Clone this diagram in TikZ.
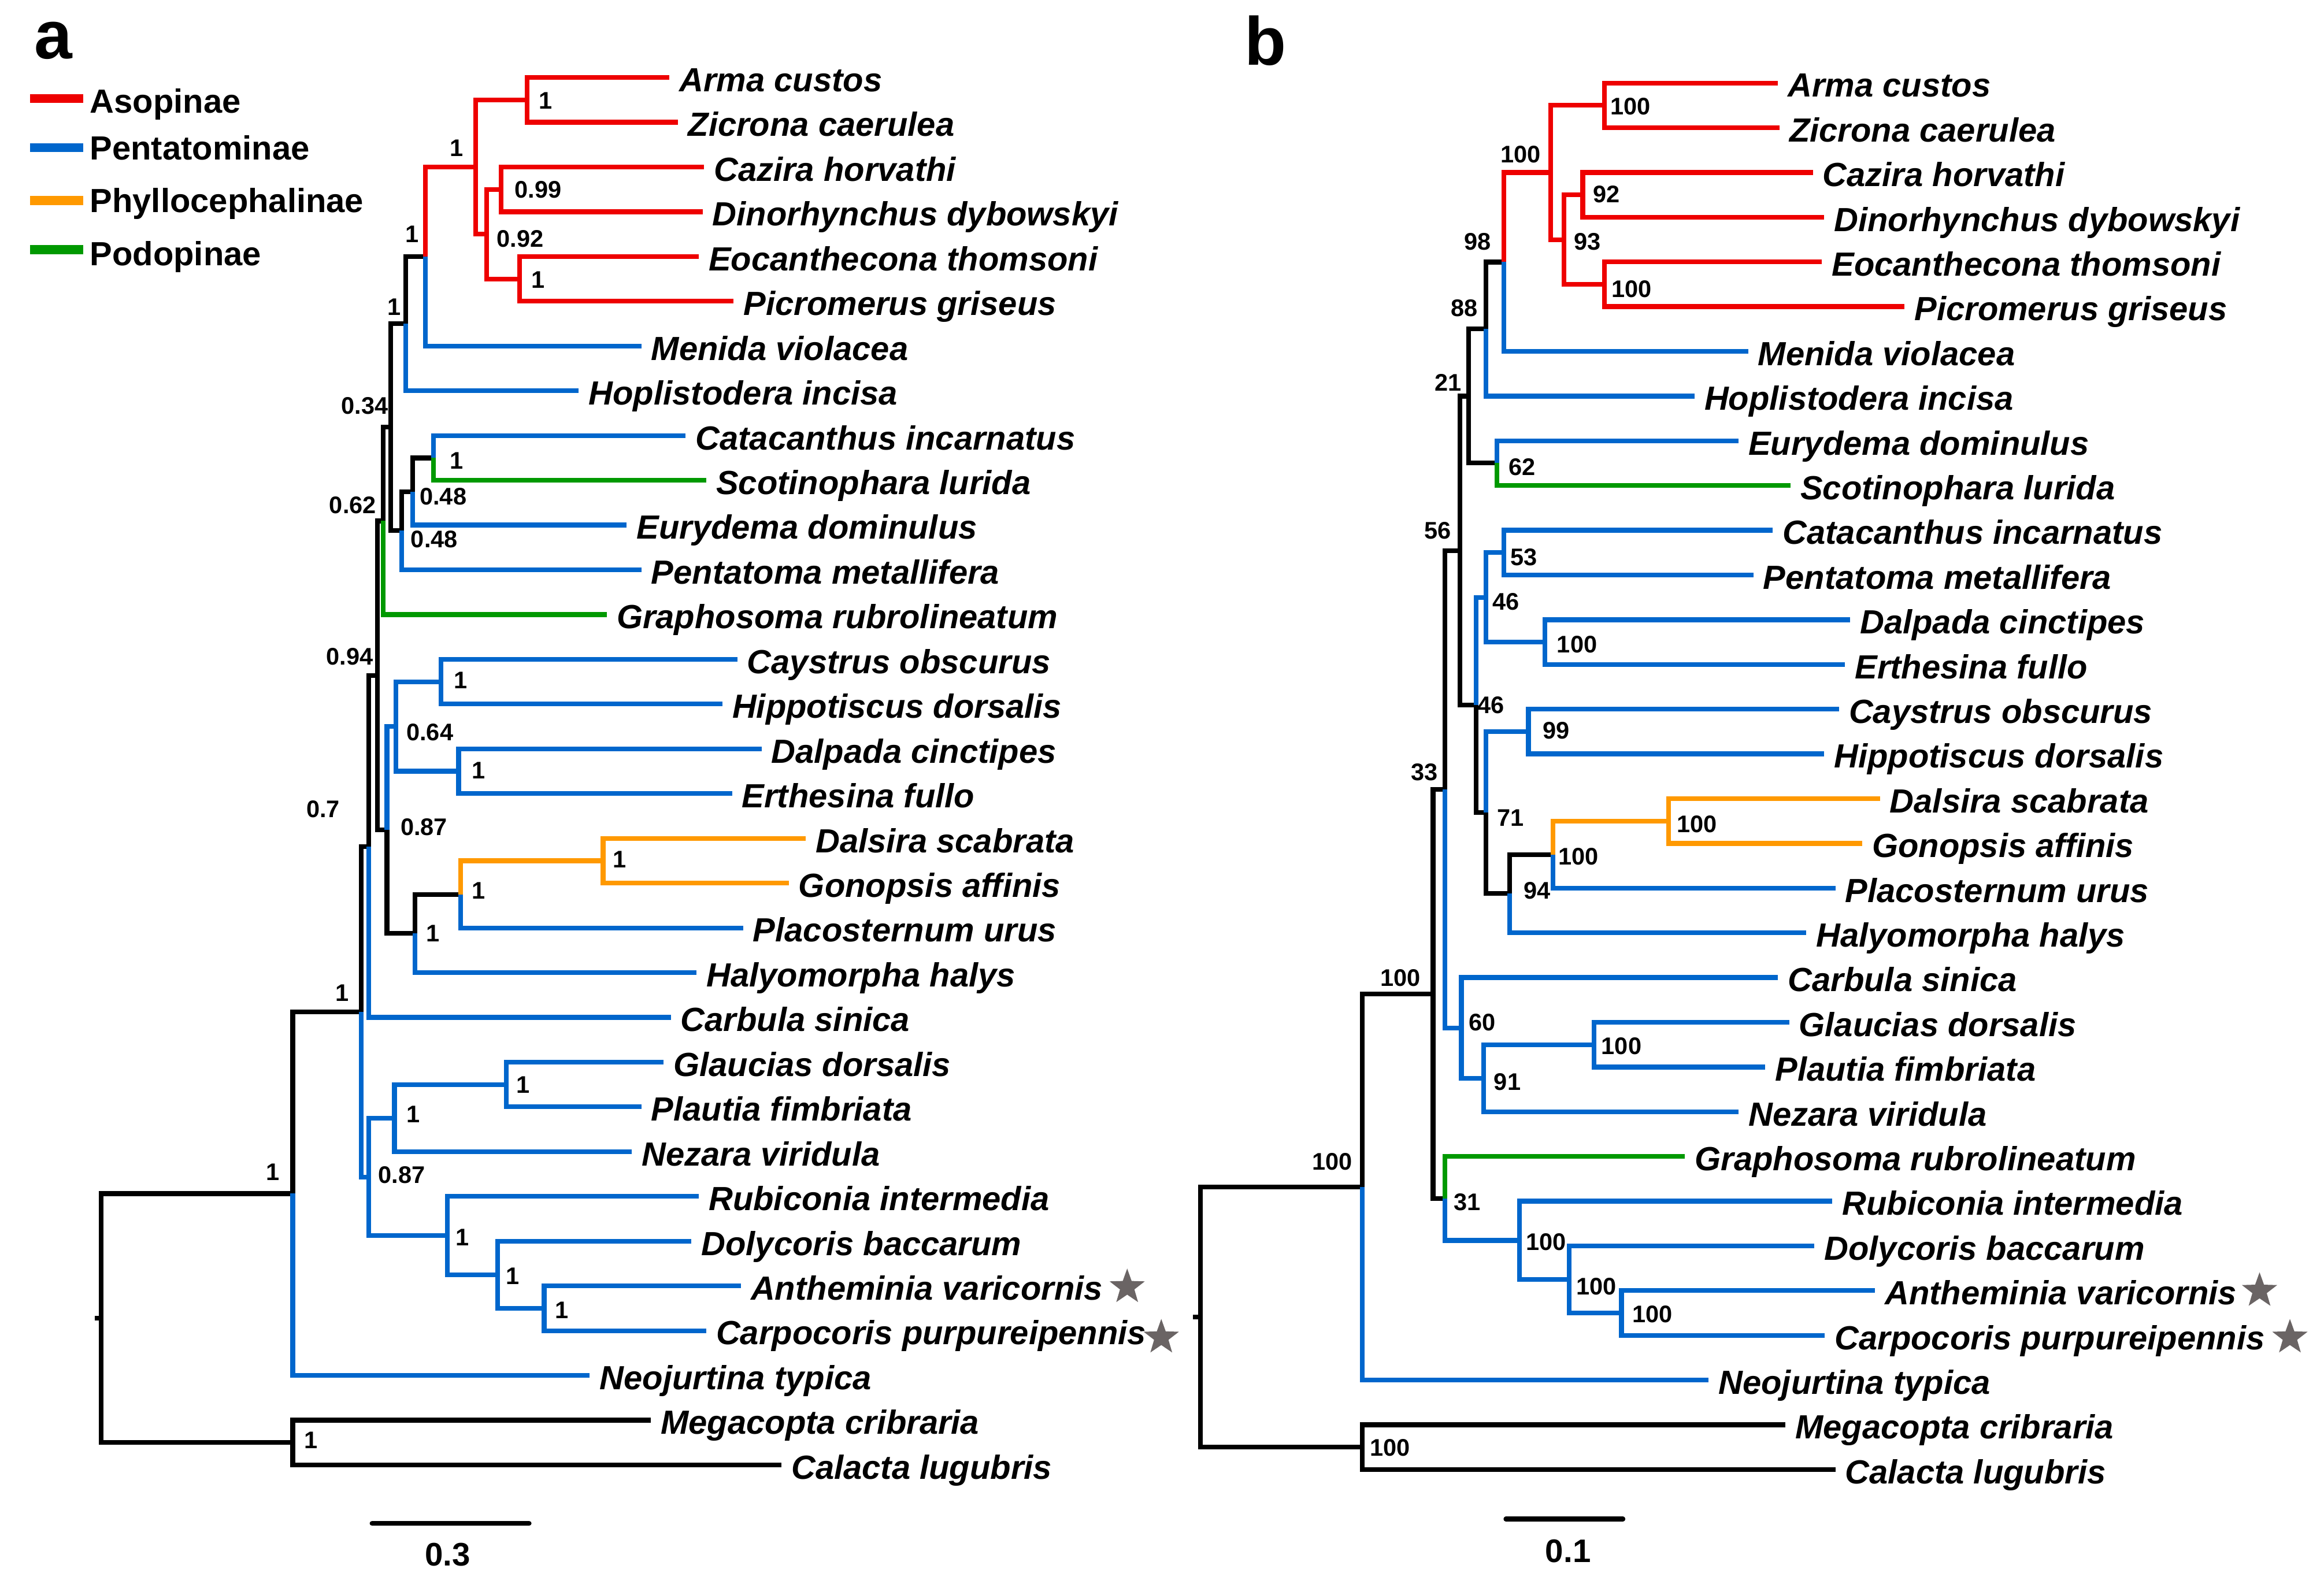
\documentclass[tikz,border=0pt]{standalone}
\usepackage{fontspec}
\setmainfont{Liberation Sans}
\usetikzlibrary{shapes.geometric}

\definecolor{asored}{RGB}{238,0,0}
\definecolor{pentblue}{RGB}{0,102,204}
\definecolor{phylorange}{RGB}{255,153,0}
\definecolor{podogreen}{RGB}{0,153,0}
\definecolor{stargray}{RGB}{106,100,100}

\begin{document}
\begin{tikzpicture}[x=1pt, y=-1pt,
    br/.style={line width=3.2pt},
    taxon/.style={anchor=west, inner xsep=6.5pt, inner ysep=0pt, text height=22.6pt, text depth=3.6pt,
      font=\fontsize{22.6}{26}\selectfont\bfseries\itshape},
    supp/.style={inner sep=0pt, font=\fontsize{16.2}{18}\selectfont\bfseries},
    legtext/.style={anchor=base west, inner sep=0pt, font=\fontsize{22.6}{26}\selectfont\bfseries},
    panel/.style={anchor=base, inner sep=0pt, font=\fontsize{46}{50}\selectfont\bfseries},
    refstar/.style={star, star points=5, star point ratio=2.45, minimum size=25pt, inner sep=0pt, fill=stargray},
    scalebar/.style={line width=3.2pt, line cap=round},
    scaletext/.style={inner sep=0pt, font=\fontsize{22}{24}\selectfont\bfseries}]
    \useasboundingbox (0,0) rectangle (1568,1068.5);

    % Beschriftung der Teilbilder
    \node[panel] (pa) at (36,39.7) {a};
    \node[panel] (pb) at (853.7,43.9) {b};

    % Legende
    \draw[line width=6pt, asored] (20.4,66.4) -- (56.2,66.4);
    \draw[line width=6pt, pentblue] (20.4,99.7) -- (56.2,99.7);
    \draw[line width=6pt, phylorange] (20.4,135.3) -- (56.2,135.3);
    \draw[line width=6pt, podogreen] (20.4,168.5) -- (56.2,168.5);
    \node[legtext] (legAso) at (60.5,76.1) {Asopinae};
    \node[legtext] (legPen) at (60.5,108) {Pentatominae};
    \node[legtext] (legPhy) at (60.5,143.2) {Phyllocephalinae};
    \node[legtext] (legPod) at (60.5,179) {Podopinae};

    % Baum a: innere Knoten
    \coordinate (aN1) at (355.6,67.4);
    \coordinate (aN2) at (338.2,127.8);
    \coordinate (aN3) at (350.7,188.2);
    \coordinate (aN4) at (328.3,158.0);
    \coordinate (aN5) at (320.8,112.7);
    \coordinate (aN6) at (287.0,173.1);
    \coordinate (aN7) at (273.6,218.4);
    \coordinate (aN8) at (292.5,309.0);
    \coordinate (aN9) at (278.5,331.7);
    \coordinate (aN10) at (271.1,358.1);
    \coordinate (aN11) at (263.6,288.3);
    \coordinate (aN12) at (258.6,351.5);
    \coordinate (aN13) at (297.4,460.0);
    \coordinate (aN14) at (309.4,520.4);
    \coordinate (aN15) at (267.1,490.2);
    \coordinate (aN16) at (406.9,580.8);
    \coordinate (aN17) at (310.9,603.5);
    \coordinate (aN18) at (280.0,629.9);
    \coordinate (aN19) at (261.1,560.1);
    \coordinate (aN20) at (254.7,455.8);
    \coordinate (aN21) at (248.7,571.2);
    \coordinate (aN22) at (341.7,731.8);
    \coordinate (aN23) at (266.1,754.5);
    \coordinate (aN24) at (367.1,882.8);
    \coordinate (aN25) at (335.7,860.2);
    \coordinate (aN26) at (301.9,833.8);
    \coordinate (aN27) at (248.7,794.2);
    \coordinate (aN28) at (243.7,682.7);
    \coordinate (aN29) at (197.5,805.4);
    \coordinate (aN30) at (197.5,973.4);
    \coordinate (aRoot) at (68.1,889.4);
    \coordinate (aTick) at (64.0,889.4);

    % Baum a: Taxa
    \node[taxon] (aArma) at (451.6,52.3) {Arma custos};
    \node[taxon] (aZicr) at (457.6,82.5) {Zicrona caerulea};
    \node[taxon] (aCazi) at (475.0,112.7) {Cazira horvathi};
    \node[taxon] (aDino) at (474.0,142.9) {Dinorhynchus dybowskyi};
    \node[taxon] (aEoca) at (471.5,173.1) {Eocanthecona thomsoni};
    \node[taxon] (aPicr) at (495.0,203.3) {Picromerus griseus};
    \node[taxon] (aMeni) at (432.7,233.5) {Menida violacea};
    \node[taxon] (aHopl) at (390.5,263.7) {Hoplistodera incisa};
    \node[taxon] (aCata) at (462.6,293.9) {Catacanthus incarnatus};
    \node[taxon] (aScot) at (476.5,324.1) {Scotinophara lurida};
    \node[taxon] (aEury) at (422.8,354.3) {Eurydema dominulus};
    \node[taxon] (aPent) at (432.7,384.5) {Pentatoma metallifera};
    \node[taxon] (aGrap) at (409.4,414.7) {Graphosoma rubrolineatum};
    \node[taxon] (aCays) at (497.4,444.9) {Caystrus obscurus};
    \node[taxon] (aHipp) at (487.4,475.1) {Hippotiscus dorsalis};
    \node[taxon] (aDalp) at (513.8,505.3) {Dalpada cinctipes};
    \node[taxon] (aErth) at (493.9,535.5) {Erthesina fullo};
    \node[taxon] (aDals) at (543.6,565.7) {Dalsira scabrata};
    \node[taxon] (aGono) at (532.2,595.9) {Gonopsis affinis};
    \node[taxon] (aPlac) at (501.4,626.1) {Placosternum urus};
    \node[taxon] (aHaly) at (470.0,656.3) {Halyomorpha halys};
    \node[taxon] (aCarb) at (452.6,686.5) {Carbula sinica};
    \node[taxon] (aGlau) at (447.7,716.7) {Glaucias dorsalis};
    \node[taxon] (aPlau) at (432.7,746.9) {Plautia fimbriata};
    \node[taxon] (aNeza) at (426.3,777.1) {Nezara viridula};
    \node[taxon] (aRubi) at (471.5,807.3) {Rubiconia intermedia};
    \node[taxon] (aDoly) at (466.5,837.5) {Dolycoris baccarum};
    \node[taxon] (aAnth) at (499.9,867.7) {Antheminia varicornis};
    \node[taxon] (aCarp) at (476.5,897.9) {Carpocoris purpureipennis};
    \node[taxon] (aNeoj) at (397.9,928.1) {Neojurtina typica};
    \node[taxon] (aMega) at (439.2,958.3) {Megacopta cribraria};
    \node[taxon] (aCala) at (527.2,988.5) {Calacta lugubris};
    \node[refstar] (aStarA) at (760.5,868.5) {};
    \node[refstar] (aStarC) at (783.5,902.5) {};

    % Baum a: Aeste
    \draw[br] (aRoot) |- (aN29) (aRoot) |- (aN30) (aN30) |- (aMega.west) (aN30) |- (aCala.west)
      (aN29) |- (aN28) (aN28) |- (aN21) (aN21) |- (aN20) (aN20) |- (aN12) (aN20) |- (aN19)
      (aN19) |- (aN18) (aN18) |- (aN17) (aN12) |- (aN11) (aN11) |- (aN7) (aN11) |- (aN10)
      (aN10) |- (aN9) (aN9) |- (aN8) (aN7) |- (aN6) (aRoot) -- (aTick);
    \draw[br, pentblue] (aN29) |- (aNeoj.west) (aN28) |- (aN27) (aN27) |- (aN23) (aN27) |- (aN26)
      (aN26) |- (aRubi.west) (aN26) |- (aN25) (aN25) |- (aDoly.west) (aN25) |- (aN24)
      (aN24) |- (aAnth.west) (aN24) |- (aCarp.west) (aN23) |- (aN22) (aN23) |- (aNeza.west)
      (aN22) |- (aGlau.west) (aN22) |- (aPlau.west) (aN21) |- (aCarb.west) (aN18) |- (aHaly.west)
      (aN17) |- (aPlac.west) (aN19) |- (aN15) (aN15) |- (aN13) (aN15) |- (aN14)
      (aN13) |- (aCays.west) (aN13) |- (aHipp.west) (aN14) |- (aDalp.west) (aN14) |- (aErth.west)
      (aN10) |- (aPent.west) (aN9) |- (aEury.west) (aN8) |- (aCata.west) (aN7) |- (aHopl.west)
      (aN6) |- (aMeni.west);
    \draw[br, phylorange] (aN17) |- (aN16) (aN16) |- (aDals.west) (aN16) |- (aGono.west);
    \draw[br, podogreen] (aN12) |- (aGrap.west) (aN8) |- (aScot.west);
    \draw[br, asored] (aN6) |- (aN5) (aN5) |- (aN1) (aN5) |- (aN4) (aN4) |- (aN2) (aN4) |- (aN3)
      (aN1) |- (aArma.west) (aN1) |- (aZicr.west) (aN2) |- (aCazi.west) (aN2) |- (aDino.west)
      (aN3) |- (aEoca.west) (aN3) |- (aPicr.west);

    % Baum a: Stuetzwerte
    \node[supp] (aS1) at (368,68) {1};
    \node[supp] (aS2) at (363,128) {0.99};
    \node[supp] (aS3) at (363,189) {1};
    \node[supp] (aS4) at (351,161) {0.92};
    \node[supp] (aS5) at (308,100) {1};
    \node[supp] (aS6) at (278,158) {1};
    \node[supp] (aS7) at (266,207) {1};
    \node[supp] (aS8) at (308,311) {1};
    \node[supp] (aS9) at (299,335) {0.48};
    \node[supp] (aS10) at (293,364) {0.48};
    \node[supp] (aS11) at (246,274) {0.34};
    \node[supp] (aS12) at (238,341) {0.62};
    \node[supp] (aS13) at (311,459) {1};
    \node[supp] (aS14) at (323,520) {1};
    \node[supp] (aS15) at (290,494) {0.64};
    \node[supp] (aS16) at (418,580) {1};
    \node[supp] (aS17) at (323,601) {1};
    \node[supp] (aS18) at (292,630) {1};
    \node[supp] (aS19) at (286,558) {0.87};
    \node[supp] (aS20) at (236,443) {0.94};
    \node[supp] (aS21) at (218,546) {0.7};
    \node[supp] (aS22) at (353,732) {1};
    \node[supp] (aS23) at (279,752) {1};
    \node[supp] (aS24) at (379,884) {1};
    \node[supp] (aS25) at (346,861) {1};
    \node[supp] (aS26) at (312,835) {1};
    \node[supp] (aS27) at (271,793) {0.87};
    \node[supp] (aS28) at (231,670) {1};
    \node[supp] (aS29) at (184,791) {1};
    \node[supp] (aS30) at (210,972) {1};

    % Baum a: Massstab
    \coordinate (aBarL) at (251,1028);
    \coordinate (aBarR) at (357,1028);
    \draw[scalebar] (aBarL) -- (aBarR);
    \node[scaletext] (aBarT) at (302,1049) {0.3};

    % Baum b: innere Knoten
    \coordinate (bN1) at (1082.5,71.1);
    \coordinate (bN2) at (1067.9,131.5);
    \coordinate (bN3) at (1082.5,191.8);
    \coordinate (bN4) at (1055.3,161.7);
    \coordinate (bN5) at (1046.3,116.4);
    \coordinate (bN6) at (1014.6,176.8);
    \coordinate (bN7) at (1002.6,222.0);
    \coordinate (bN8) at (1010.1,312.5);
    \coordinate (bN9) at (991.0,267.3);
    \coordinate (bN10) at (1014.6,372.9);
    \coordinate (bN11) at (1042.3,433.3);
    \coordinate (bN12) at (1002.6,403.1);
    \coordinate (bN13) at (1031.2,493.6);
    \coordinate (bN14) at (1125.7,554.0);
    \coordinate (bN15) at (1047.8,576.6);
    \coordinate (bN16) at (1018.6,603.0);
    \coordinate (bN17) at (1002.6,548.3);
    \coordinate (bN18) at (996.0,475.7);
    \coordinate (bN19) at (985.0,371.5);
    \coordinate (bN20) at (1075.4,704.9);
    \coordinate (bN21) at (1001.1,727.6);
    \coordinate (bN22) at (986.0,693.6);
    \coordinate (bN23) at (974.9,532.6);
    \coordinate (bN24) at (1094.0,886.0);
    \coordinate (bN25) at (1058.8,863.4);
    \coordinate (bN26) at (1025.2,837.0);
    \coordinate (bN27) at (974.9,808.7);
    \coordinate (bN28) at (966.9,670.7);
    \coordinate (bN29) at (919.1,801.0);
    \coordinate (bN30) at (919.1,976.5);
    \coordinate (bRoot) at (810.0,888.8);
    \coordinate (bTick) at (805.0,888.8);

    % Baum b: Taxa
    \node[taxon] (bArma) at (1199.6,56.0) {Arma custos};
    \node[taxon] (bZicr) at (1200.6,86.2) {Zicrona caerulea};
    \node[taxon] (bCazi) at (1223.1,116.4) {Cazira horvathi};
    \node[taxon] (bDino) at (1230.7,146.5) {Dinorhynchus dybowskyi};
    \node[taxon] (bEoca) at (1229.2,176.7) {Eocanthecona thomsoni};
    \node[taxon] (bPicr) at (1285.0,206.9) {Picromerus griseus};
    \node[taxon] (bMeni) at (1179.5,237.1) {Menida violacea};
    \node[taxon] (bHopl) at (1143.3,267.3) {Hoplistodera incisa};
    \node[taxon] (bEury) at (1173.0,297.4) {Eurydema dominulus};
    \node[taxon] (bScot) at (1208.1,327.6) {Scotinophara lurida};
    \node[taxon] (bCata) at (1196.1,357.8) {Catacanthus incarnatus};
    \node[taxon] (bPent) at (1183.0,388.0) {Pentatoma metallifera};
    \node[taxon] (bDalp) at (1248.3,418.2) {Dalpada cinctipes};
    \node[taxon] (bErth) at (1244.8,448.4) {Erthesina fullo};
    \node[taxon] (bCays) at (1240.8,478.5) {Caystrus obscurus};
    \node[taxon] (bHipp) at (1230.7,508.7) {Hippotiscus dorsalis};
    \node[taxon] (bDals) at (1268.4,538.9) {Dalsira scabrata};
    \node[taxon] (bGono) at (1256.4,569.1) {Gonopsis affinis};
    \node[taxon] (bPlac) at (1238.3,599.3) {Placosternum urus};
    \node[taxon] (bHaly) at (1218.7,629.4) {Halyomorpha halys};
    \node[taxon] (bCarb) at (1199.6,659.6) {Carbula sinica};
    \node[taxon] (bGlau) at (1207.1,689.8) {Glaucias dorsalis};
    \node[taxon] (bPlau) at (1191.0,720.0) {Plautia fimbriata};
    \node[taxon] (bNeza) at (1173.0,750.2) {Nezara viridula};
    \node[taxon] (bGrap) at (1136.8,780.3) {Graphosoma rubrolineatum};
    \node[taxon] (bRubi) at (1236.3,810.5) {Rubiconia intermedia};
    \node[taxon] (bDoly) at (1224.2,840.7) {Dolycoris baccarum};
    \node[taxon] (bAnth) at (1265.0,870.9) {Antheminia varicornis};
    \node[taxon] (bCarp) at (1231.2,901.1) {Carpocoris purpureipennis};
    \node[taxon] (bNeoj) at (1152.8,931.2) {Neojurtina typica};
    \node[taxon] (bMega) at (1204.6,961.4) {Megacopta cribraria};
    \node[taxon] (bCala) at (1238.3,991.6) {Calacta lugubris};
    \node[refstar] (bStarA) at (1524.5,871) {};
    \node[refstar] (bStarC) at (1545,902.5) {};

    % Baum b: Aeste
    \draw[br] (bRoot) |- (bN29) (bRoot) |- (bN30) (bN30) |- (bMega.west) (bN30) |- (bCala.west)
      (bN29) |- (bN28) (bN28) |- (bN23) (bN28) |- (bN27) (bN23) |- (bN19) (bN19) |- (bN9)
      (bN19) |- (bN18) (bN18) |- (bN17) (bN17) |- (bN16) (bN16) |- (bN15) (bN9) |- (bN7)
      (bN9) |- (bN8) (bN7) |- (bN6) (bRoot) -- (bTick);
    \draw[br, pentblue] (bN29) |- (bNeoj.west) (bN27) |- (bN26) (bN26) |- (bRubi.west) (bN26) |- (bN25)
      (bN25) |- (bDoly.west) (bN25) |- (bN24) (bN24) |- (bAnth.west) (bN24) |- (bCarp.west)
      (bN23) |- (bN22) (bN22) |- (bCarb.west) (bN22) |- (bN21) (bN21) |- (bN20) (bN21) |- (bNeza.west)
      (bN20) |- (bGlau.west) (bN20) |- (bPlau.west) (bN16) |- (bHaly.west) (bN15) |- (bPlac.west)
      (bN17) |- (bN13) (bN13) |- (bCays.west) (bN13) |- (bHipp.west) (bN18) |- (bN12)
      (bN12) |- (bN10) (bN12) |- (bN11) (bN10) |- (bCata.west) (bN10) |- (bPent.west)
      (bN11) |- (bDalp.west) (bN11) |- (bErth.west) (bN8) |- (bEury.west) (bN7) |- (bHopl.west)
      (bN6) |- (bMeni.west);
    \draw[br, phylorange] (bN15) |- (bN14) (bN14) |- (bDals.west) (bN14) |- (bGono.west);
    \draw[br, podogreen] (bN27) |- (bGrap.west) (bN8) |- (bScot.west);
    \draw[br, asored] (bN6) |- (bN5) (bN5) |- (bN1) (bN5) |- (bN4) (bN4) |- (bN2) (bN4) |- (bN3)
      (bN1) |- (bArma.west) (bN1) |- (bZicr.west) (bN2) |- (bCazi.west) (bN2) |- (bDino.west)
      (bN3) |- (bEoca.west) (bN3) |- (bPicr.west);

    % Baum b: Stuetzwerte
    \node[supp] (bS1) at (1100,72) {100};
    \node[supp] (bS2) at (1084,131) {92};
    \node[supp] (bS3) at (1101,195) {100};
    \node[supp] (bS4) at (1071,163) {93};
    \node[supp] (bS5) at (1026,104) {100};
    \node[supp] (bS6) at (997,163) {98};
    \node[supp] (bS7) at (988,208) {88};
    \node[supp] (bS8) at (1027,315) {62};
    \node[supp] (bS9) at (977,258) {21};
    \node[supp] (bS10) at (1028,376) {53};
    \node[supp] (bS11) at (1064,435) {100};
    \node[supp] (bS12) at (1016,406) {46};
    \node[supp] (bS13) at (1050,493) {99};
    \node[supp] (bS14) at (1145,556) {100};
    \node[supp] (bS15) at (1065,578) {100};
    \node[supp] (bS16) at (1037,601) {94};
    \node[supp] (bS17) at (1019,552) {71};
    \node[supp] (bS18) at (1006,476) {46};
    \node[supp] (bS19) at (970,358) {56};
    \node[supp] (bS20) at (1094,706) {100};
    \node[supp] (bS21) at (1017,730) {91};
    \node[supp] (bS22) at (1000,690) {60};
    \node[supp] (bS23) at (961,521) {33};
    \node[supp] (bS24) at (1115,887) {100};
    \node[supp] (bS25) at (1077,868) {100};
    \node[supp] (bS26) at (1043,838) {100};
    \node[supp] (bS27) at (990,811) {31};
    \node[supp] (bS28) at (945,660) {100};
    \node[supp] (bS29) at (899,784) {100};
    \node[supp] (bS30) at (938,977) {100};

    % Baum b: Massstab
    \coordinate (bBarL) at (1016,1025);
    \coordinate (bBarR) at (1095,1025);
    \draw[scalebar] (bBarL) -- (bBarR);
    \node[scaletext] (bBarT) at (1058,1046.6) {0.1};
\end{tikzpicture}
\end{document}
